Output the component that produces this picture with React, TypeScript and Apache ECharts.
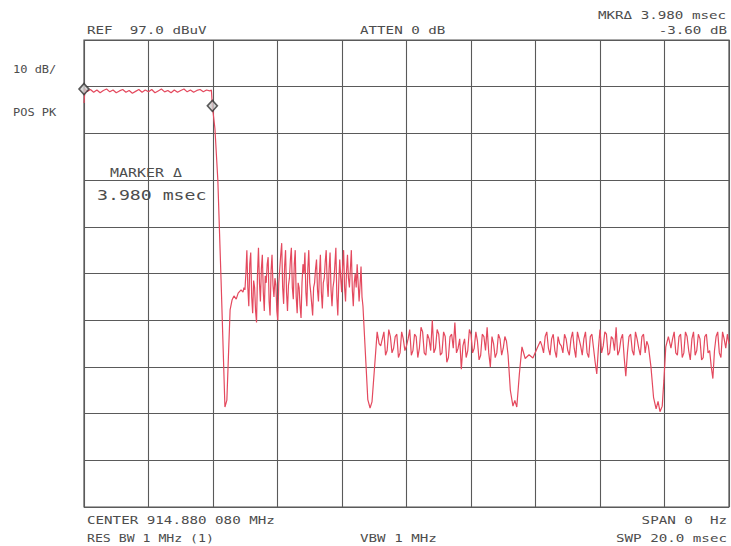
import React, { useEffect, useRef } from "react";
import * as echarts from "echarts";

// Instrument settings
const REF_LEVEL_DBUV = 97.0;
const SWEEP_MS = 20;
const TIME_DIV_MS = 2;
const DB_PER_DIV = 10;

// Trace, as [time ms, level dBuV] pairs, segment by segment
const plateau: [number, number][] = [
  [0, 83.5], [0.03, 86.5], [0.1, 86.0], [0.2, 86.4], [0.3, 85.8], [0.4, 86.3], [0.5, 85.7],
  [0.6, 86.2], [0.7, 86.5], [0.8, 85.9], [0.9, 86.3], [1.0, 85.7], [1.1, 86.1], [1.2, 86.4],
  [1.3, 85.8], [1.4, 86.2], [1.5, 85.6], [1.6, 86.0], [1.7, 86.4], [1.8, 85.8], [1.9, 86.3],
  [2.0, 85.9], [2.1, 86.4], [2.2, 85.7], [2.3, 86.1], [2.4, 86.5], [2.5, 85.9], [2.6, 86.2],
  [2.7, 85.7], [2.8, 86.3], [2.9, 85.8], [3.0, 86.2], [3.1, 86.5], [3.2, 85.9], [3.3, 86.3],
  [3.4, 85.8], [3.5, 86.2], [3.6, 86.4], [3.7, 85.9], [3.8, 86.3], [3.9, 86.1], [3.95, 86.3],
];

const fallingEdge: [number, number][] = [
  [3.98, 82.9], [4.06, 78.0], [4.15, 67.0], [4.25, 45.6], [4.37, 18.4], [4.43, 19.9],
  [4.53, 39.2], [4.59, 41.3], [4.65, 42.2], [4.72, 41.5], [4.78, 42.8], [4.87, 43.5],
];

const burst: [number, number][] = [
  [4.93, 43.0], [4.96, 44.0], [4.99, 43.5], [5.02, 47.0], [5.05, 52.0], [5.08, 44.0], [5.11, 40.0],
  [5.14, 49.0], [5.17, 51.5], [5.2, 42.0], [5.23, 38.5], [5.26, 45.5], [5.29, 44.0], [5.32, 39.0],
  [5.35, 36.5], [5.38, 47.0], [5.41, 52.5], [5.44, 45.0], [5.47, 41.0], [5.5, 48.0], [5.53, 51.0],
  [5.56, 43.0], [5.59, 39.0], [5.62, 46.5], [5.65, 45.0], [5.68, 49.0], [5.71, 50.5], [5.74, 41.0],
  [5.77, 38.0], [5.8, 47.5], [5.83, 51.0], [5.86, 44.5], [5.89, 42.0], [5.92, 46.0], [5.95, 44.5],
  [5.98, 39.0], [6.01, 37.0], [6.04, 45.0], [6.07, 48.0], [6.1, 51.0], [6.13, 53.5], [6.16, 44.0],
  [6.19, 40.5], [6.22, 48.5], [6.25, 52.0], [6.28, 43.0], [6.31, 39.0], [6.34, 44.5], [6.37, 46.0],
  [6.4, 50.0], [6.43, 52.5], [6.46, 44.0], [6.49, 41.5], [6.52, 49.0], [6.55, 52.0], [6.58, 42.0],
  [6.61, 38.5], [6.64, 45.0], [6.67, 44.0], [6.7, 40.0], [6.73, 37.5], [6.76, 45.0], [6.79, 49.0],
  [6.82, 47.0], [6.85, 51.5], [6.88, 43.0], [6.91, 40.0], [6.94, 48.0], [6.97, 52.0], [7.0, 45.0],
  [7.03, 43.0], [7.06, 40.5], [7.09, 38.0], [7.12, 44.0], [7.15, 45.0], [7.18, 48.0], [7.21, 50.0],
  [7.24, 43.5], [7.27, 41.0], [7.3, 47.0], [7.33, 51.0], [7.36, 43.0], [7.39, 39.5], [7.42, 45.0],
  [7.45, 46.0], [7.48, 49.5], [7.51, 52.0], [7.54, 45.0], [7.57, 42.0], [7.6, 48.0], [7.63, 51.5],
  [7.66, 43.5], [7.69, 40.0], [7.72, 44.0], [7.75, 45.5], [7.78, 49.0], [7.81, 52.5], [7.84, 42.0],
  [7.87, 38.0], [7.9, 45.0], [7.93, 50.0], [7.96, 46.0], [7.99, 43.0], [8.02, 48.5], [8.05, 52.0],
  [8.08, 44.0], [8.11, 41.0], [8.14, 47.5], [8.17, 51.0], [8.2, 46.0], [8.23, 44.0], [8.26, 48.0],
  [8.29, 52.0], [8.32, 43.5], [8.35, 40.0], [8.38, 45.0], [8.41, 47.0], [8.44, 44.0], [8.47, 49.0],
  [8.5, 45.0], [8.53, 41.0], [8.56, 44.5], [8.59, 48.5], [8.62, 42.0],
];

const dip1: [number, number][] = [
  [8.65, 40.0], [8.74, 28.0], [8.8, 20.0], [8.87, 18.2], [8.93, 19.5], [9.0, 26.0], [9.09, 34.5],
  [9.15, 32.0],
];

const band1: [number, number][] = [
  [9.2, 31.5], [9.25, 33.0], [9.3, 34.5], [9.35, 29.5], [9.4, 30.5], [9.45, 35.0], [9.5, 33.5],
  [9.55, 30.0], [9.6, 31.0], [9.65, 33.5], [9.7, 34.0], [9.75, 29.0], [9.8, 30.0], [9.85, 34.5],
  [9.9, 33.0], [9.95, 30.5], [10.0, 31.5], [10.05, 33.0], [10.1, 35.0], [10.15, 29.5], [10.2, 30.5],
  [10.25, 34.0], [10.3, 33.5], [10.35, 29.0], [10.4, 31.0], [10.45, 35.5], [10.5, 34.5], [10.55, 30.0],
  [10.6, 29.5], [10.65, 34.0], [10.7, 33.0], [10.75, 30.5], [10.8, 37.0], [10.85, 30.0], [10.9, 31.0],
  [10.95, 35.0], [11.0, 34.0], [11.05, 29.5], [11.1, 30.0], [11.15, 34.5], [11.2, 33.5], [11.25, 28.0],
  [11.3, 29.0], [11.35, 33.5], [11.4, 34.0], [11.45, 31.0], [11.5, 36.5], [11.55, 30.0], [11.6, 31.0],
  [11.65, 33.0], [11.7, 26.5], [11.75, 31.5], [11.8, 33.0], [11.85, 29.0], [11.9, 30.5], [11.95, 35.0],
  [12.0, 34.0], [12.05, 30.0], [12.1, 31.0], [12.15, 34.5], [12.2, 32.5], [12.25, 28.5], [12.3, 29.5],
  [12.35, 34.0], [12.4, 33.5], [12.45, 30.5], [12.5, 35.5], [12.55, 30.0], [12.6, 27.0], [12.65, 33.5],
  [12.7, 32.0], [12.75, 29.0], [12.8, 30.0], [12.85, 34.0], [12.9, 33.0], [12.95, 29.5], [13.0, 31.0],
  [13.05, 33.5], [13.1, 32.5],
];

const dip2: [number, number][] = [
  [13.15, 29.5], [13.22, 22.0], [13.3, 18.6], [13.36, 19.8], [13.42, 18.4], [13.5, 25.5],
  [13.58, 31.3], [13.68, 28.8], [13.8, 29.6], [13.92, 28.9], [14.05, 31.0], [14.15, 32.5],
];

const band2: [number, number][] = [
  [14.2, 31.5], [14.25, 30.0], [14.3, 33.5], [14.35, 34.5], [14.4, 31.0], [14.45, 29.5], [14.5, 33.0],
  [14.55, 34.0], [14.6, 30.5], [14.65, 29.0], [14.7, 33.5], [14.75, 32.0], [14.8, 31.5], [14.85, 30.0],
  [14.9, 34.0], [14.95, 33.0], [15.0, 30.5], [15.05, 29.5], [15.1, 33.0], [15.15, 34.5], [15.2, 31.0],
  [15.25, 29.0], [15.3, 34.5], [15.35, 33.0], [15.4, 31.5], [15.45, 29.5], [15.5, 33.0], [15.55, 34.5],
  [15.6, 30.0], [15.65, 29.0], [15.7, 33.5], [15.75, 34.0], [15.8, 31.0], [15.85, 28.0], [15.9, 25.5],
  [15.95, 31.0], [16.0, 35.0], [16.05, 30.0], [16.1, 31.5], [16.15, 34.5], [16.2, 34.0], [16.25, 29.5],
  [16.3, 30.0], [16.35, 33.5], [16.4, 33.0], [16.45, 30.5], [16.5, 35.5], [16.55, 29.5], [16.6, 30.5],
  [16.65, 33.0], [16.7, 34.0], [16.75, 29.0], [16.8, 25.0], [16.85, 30.0], [16.9, 33.5], [16.95, 34.0],
  [17.0, 30.5], [17.05, 29.5], [17.1, 34.5], [17.15, 33.0], [17.2, 31.0], [17.25, 29.5], [17.3, 33.5],
  [17.35, 34.0], [17.4, 30.0], [17.45, 32.5], [17.5, 31.5],
];

const dip3: [number, number][] = [
  [17.58, 27.0], [17.66, 20.5], [17.74, 18.0], [17.8, 19.6], [17.86, 17.4], [17.93, 18.6],
  [17.98, 24.0], [18.04, 31.3], [18.12, 33.5],
];

const band3: [number, number][] = [
  [18.2, 31.0], [18.25, 33.0], [18.3, 34.5], [18.35, 30.0], [18.4, 29.5], [18.45, 33.5], [18.5, 34.0],
  [18.55, 29.0], [18.6, 30.0], [18.65, 34.5], [18.7, 33.5], [18.75, 30.5], [18.8, 28.5], [18.85, 33.0],
  [18.9, 34.5], [18.95, 29.5], [19.0, 30.5], [19.05, 34.0], [19.1, 33.0], [19.15, 28.5], [19.2, 29.0],
  [19.25, 33.5], [19.3, 34.0], [19.35, 30.0], [19.4, 30.5], [19.45, 27.0], [19.5, 24.5], [19.55, 30.5],
  [19.6, 33.5], [19.65, 34.5], [19.7, 30.0], [19.75, 29.0], [19.8, 34.5], [19.85, 33.0], [19.9, 31.0],
  [19.95, 34.0], [20.0, 32.0],
];

// Marker positions [time ms, level dBuV]
const markers: [number, number][] = [
  [0, 86.5],
  [3.98, 82.9],
];

// Screen annotation texts
const TOP_LEFT = "REF  97.0 dBuV";
const TOP_CENTER = "ATTEN 0 dB";
const TOP_RIGHT_1 = "MKR\u0394 3.980 msec";
const TOP_RIGHT_2 = "-3.60 dB";
const SIDE_1 = "10 dB/";
const SIDE_2 = "POS PK";
const BOTTOM_LEFT_1 = "CENTER 914.880 080 MHz";
const BOTTOM_RIGHT_1 = "SPAN 0  Hz";
const BOTTOM_LEFT_2 = "RES BW 1 MHz (1)";
const BOTTOM_CENTER_2 = "VBW 1 MHz";
const BOTTOM_RIGHT_2 = "SWP 20.0 msec";
const MARKER_TITLE = "MARKER \u0394";
const MARKER_VALUE = "3.980 msec";

const trace = [
  ...plateau, ...fallingEdge, ...burst, ...dip1, ...band1, ...dip2, ...band2, ...dip3, ...band3,
];

export default function App() {
  const ref = useRef<HTMLDivElement>(null);

  useEffect(() => {
    if (!ref.current) return;
    const chart = echarts.init(ref.current, null, { renderer: "svg" });
    const rel = (p: [number, number]) => [p[0], p[1] - REF_LEVEL_DBUV];

    const FONT = "DejaVu Sans Mono";
    const TXT = "#4d4d4d";
    const txt = (
      text: string,
      x: number,
      y: number,
      align: "left" | "right" = "left",
      size = 11,
      sx = 1.29
    ) => ({
      type: "text",
      x,
      y,
      scaleX: sx,
      z: 10,
      style: {
        text,
        fill: TXT,
        fontFamily: FONT,
        fontSize: size,
        align,
        verticalAlign: "middle",
      },
    });

    chart.setOption({
      animation: false,
      backgroundColor: "#ffffff",
      grid: {
        left: 84,
        top: 40,
        width: 645,
        height: 467,
        show: true,
        borderColor: "#555555",
        borderWidth: 1.2,
        backgroundColor: "transparent",
      },
      xAxis: {
        type: "value",
        min: 0,
        max: SWEEP_MS,
        interval: TIME_DIV_MS,
        axisLine: { show: false },
        axisTick: { show: false },
        axisLabel: { show: false },
        splitLine: { show: true, lineStyle: { color: "#5a5a5a", width: 1.1 } },
      },
      yAxis: {
        type: "value",
        min: -10 * DB_PER_DIV,
        max: 0,
        interval: DB_PER_DIV,
        axisLine: { show: false },
        axisTick: { show: false },
        axisLabel: { show: false },
        splitLine: { show: true, lineStyle: { color: "#5a5a5a", width: 1.1 } },
      },
      series: [
        {
          type: "line",
          data: trace.map(rel),
          symbol: "none",
          lineStyle: { color: "#e4495e", width: 1.2 },
          z: 3,
        },
        {
          type: "scatter",
          data: markers.map(rel),
          symbol: "diamond",
          symbolSize: [10, 11],
          itemStyle: { color: "#cfcfcf", borderColor: "#333333", borderWidth: 1.6 },
          z: 5,
        },
      ],
      graphic: [
        txt(TOP_LEFT, 87, 30),
        txt(TOP_CENTER, 360, 30),
        txt(TOP_RIGHT_1, 598, 15),
        txt(TOP_RIGHT_2, 727, 30, "right"),
        txt(SIDE_1, 13, 70, "left", 10, 1.2),
        txt(SIDE_2, 13, 113, "left", 10, 1.2),
        txt(BOTTOM_LEFT_1, 87, 520),
        txt(BOTTOM_RIGHT_1, 727, 520, "right"),
        txt(BOTTOM_LEFT_2, 87, 538, "left", 11, 1.2),
        txt(BOTTOM_CENTER_2, 360, 538),
        txt(BOTTOM_RIGHT_2, 727, 538, "right"),
        txt(MARKER_TITLE, 110, 172, "left", 13, 1.15),
        txt(MARKER_VALUE, 97, 195, "left", 14, 1.3),
      ],
    });

    return () => chart.dispose();
  }, []);

  return (
    <div
      ref={ref}
      style={{ position: "fixed", left: 0, top: 0, width: 731, height: 546, background: "#fff" }}
    />
  );
}
